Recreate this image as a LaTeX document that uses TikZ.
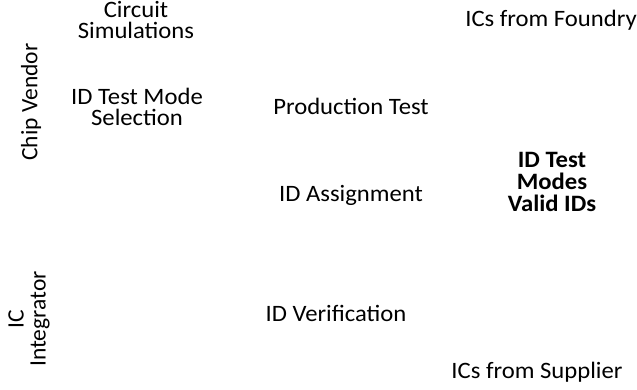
\documentclass[tikz,border=0pt]{standalone}
\usepackage{fontspec}
\setmainfont{Carlito}
\begin{document}
\begin{tikzpicture}[x=1pt,y=-1pt,
  lbl/.style={align=center,inner sep=0pt,font=\fontsize{23.5}{21.5}\selectfont},
  hz/.style={xscale=1.05,transform shape},
  bl/.style={align=center,inner sep=0pt,font=\fontsize{23.5}{22}\selectfont\bfseries}]
\useasboundingbox (0,0) rectangle (637,390);
\node[lbl,hz] (sim) at (136,20) {Circuit\\Simulations};
\node[lbl,hz] (fou) at (551,20) {ICs from Foundry};
\node[lbl,rotate=90] (cv) at (31,102) {Chip Vendor};
\node[lbl,hz] (sel) at (137,107) {ID Test Mode\\Selection};
\node[lbl,hz] (pt) at (351,106) {Production Test};
\node[bl,hz] (mod) at (552,182) {ID Test\\Modes\\Valid IDs};
\node[lbl,hz] (asg) at (351,195) {ID Assignment};
\node[lbl,rotate=90,font=\fontsize{23.5}{22}\selectfont] (ici) at (29,319) {IC\\Integrator};
\node[lbl,hz] (ver) at (336,313) {ID Verification};
\node[lbl,hz] (sup) at (537,372) {ICs from Supplier};
\end{tikzpicture}
\end{document}
